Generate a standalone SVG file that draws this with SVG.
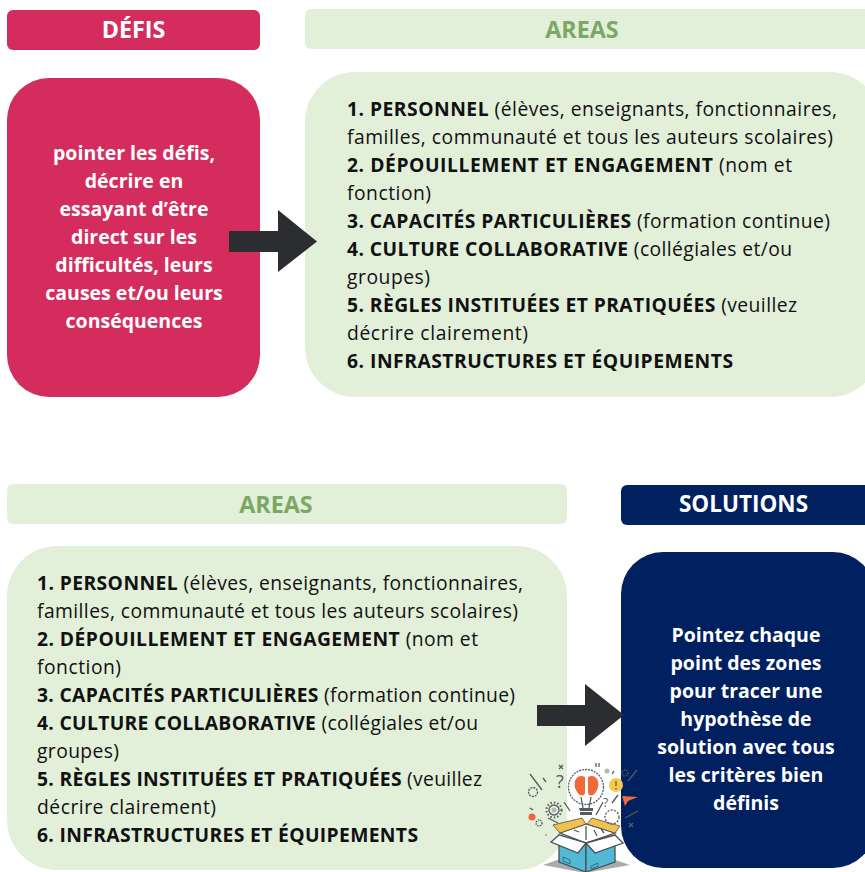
<svg xmlns="http://www.w3.org/2000/svg" width="865" height="872" viewBox="0 0 865 872">
<defs><style>
text{font-family:"Open Sans","Liberation Sans",sans-serif}
.h{font-size:23.300px;font-weight:700;text-anchor:middle}
.w{fill:#fff}.g{fill:#7da765}
.c{font-size:19.500px;font-weight:700;fill:#fff;text-anchor:middle}
.b{font-size:19.300px;fill:#111}
.s{font-weight:700}
.pink{fill:#d42d5d}.green{fill:#e2efd9}.navy{fill:#002060}
.ic{fill:none;stroke:#555a5e;stroke-width:1.300}
.f{fill:#f2c14e;stroke:#4a4f53;stroke-width:.8}
.o{fill:#fff;stroke:#4a4f53;stroke-width:1.300}
.t{fill:#4fb9d6;stroke:#4a4f53;stroke-width:1.300}
</style></defs>
<rect width="865" height="872" fill="#fff"/>
<g id="defis-header"><rect class="pink" x="7" y="10" width="253" height="40" rx="6"/><text class="h w" x="133.500" y="38">DÉFIS</text></g>
<g id="areas-header-top"><rect class="green" x="305" y="9" width="570" height="40" rx="6"/><text class="h g" x="582" y="38">AREAS</text></g>
<g id="defis-box"><rect class="pink" x="7" y="78" width="253" height="319" rx="42"/>
<text class="c" x="134" y="160">pointer les défis,</text>
<text class="c" x="134" y="188">décrire en</text>
<text class="c" x="134" y="216">essayant d’être</text>
<text class="c" x="134" y="244">direct sur les</text>
<text class="c" x="134" y="272">difficultés, leurs</text>
<text class="c" x="134" y="300">causes et/ou leurs</text>
<text class="c" x="134" y="328">conséquences</text></g>
<g id="areas-box-top"><rect class="green" x="305" y="72" width="575" height="325" rx="50"/>
<text class="b" x="347" y="116" textLength="490"><tspan class="s">1. PERSONNEL</tspan> (élèves, enseignants, fonctionnaires,</text>
<text class="b" x="347" y="144" textLength="486">familles, communauté et tous les auteurs scolaires)</text>
<text class="b" x="347" y="172" textLength="445"><tspan class="s">2. DÉPOUILLEMENT ET ENGAGEMENT</tspan> (nom et</text>
<text class="b" x="347" y="200" textLength="84">fonction)</text>
<text class="b" x="347" y="228" textLength="483"><tspan class="s">3. CAPACITÉS PARTICULIÈRES</tspan> (formation continue)</text>
<text class="b" x="347" y="256" textLength="445"><tspan class="s">4. CULTURE COLLABORATIVE</tspan> (collégiales et/ou</text>
<text class="b" x="347" y="284" textLength="83">groupes)</text>
<text class="b" x="347" y="312" textLength="450"><tspan class="s">5. RÈGLES INSTITUÉES ET PRATIQUÉES</tspan> (veuillez</text>
<text class="b" x="347" y="340" textLength="181">décrire clairement)</text>
<text class="b s" x="347" y="368" textLength="386">6. INFRASTRUCTURES ET ÉQUIPEMENTS</text></g>
<g id="areas-header-bottom"><rect class="green" x="7" y="484" width="560" height="40" rx="6"/><text class="h g" x="276" y="513">AREAS</text></g>
<g id="solutions-header"><rect class="navy" x="621" y="485" width="254" height="40" rx="6"/><text class="h w" x="743.500" y="512" style="font-size:22.500px">SOLUTIONS</text></g>
<g id="areas-box-bottom"><rect class="green" x="7" y="546" width="560" height="324" rx="50"/>
<text class="b" x="37" y="590" textLength="486"><tspan class="s">1. PERSONNEL</tspan> (élèves, enseignants, fonctionnaires,</text>
<text class="b" x="37" y="618" textLength="481">familles, communauté et tous les auteurs scolaires)</text>
<text class="b" x="37" y="646" textLength="441"><tspan class="s">2. DÉPOUILLEMENT ET ENGAGEMENT</tspan> (nom et</text>
<text class="b" x="37" y="674" textLength="84">fonction)</text>
<text class="b" x="37" y="702" textLength="478"><tspan class="s">3. CAPACITÉS PARTICULIÈRES</tspan> (formation continue)</text>
<text class="b" x="37" y="730" textLength="441"><tspan class="s">4. CULTURE COLLABORATIVE</tspan> (collégiales et/ou</text>
<text class="b" x="37" y="758" textLength="82">groupes)</text>
<text class="b" x="37" y="786" textLength="445"><tspan class="s">5. RÈGLES INSTITUÉES ET PRATIQUÉES</tspan> (veuillez</text>
<text class="b" x="37" y="814" textLength="179">décrire clairement)</text>
<text class="b s" x="37" y="842" textLength="381">6. INFRASTRUCTURES ET ÉQUIPEMENTS</text></g>
<g id="solutions-box"><rect class="navy" x="621" y="552" width="254" height="316" rx="42"/>
<text class="c" x="746" y="642">Pointez chaque</text>
<text class="c" x="746" y="670">point des zones</text>
<text class="c" x="746" y="698">pour tracer une</text>
<text class="c" x="746" y="726">hypothèse de</text>
<text class="c" x="746" y="754">solution avec tous</text>
<text class="c" x="746" y="782">les critères bien</text>
<text class="c" x="746" y="810">définis</text></g>
<g id="connectors" fill="#2b2d30">
<path d="M229 231H278V210L317 241.500L278 272V252H229Z"/>
<path d="M537 705H585V684L624 715L585 746V726H537Z"/>
</g>
<g id="idea-icon">
<path d="M543 865L586 850L630 865L590 872H580Z" fill="#a9abad"/>
<path class="o" d="M560 833L586 824L615 833L586 843Z"/>
<path class="t" d="M559 835L586 843V872L559 862Z"/>
<path class="t" d="M586 843L615 835V862L586 872Z"/>
<path class="o" d="M559 835L551 842L578 853L586 843ZM615 835L623 843L595 853L586 843Z"/>
<path class="f" d="M553 825L582 818L586 824L560 833Z"/>
<path class="f" d="M587 824L592 818L620 826L615 833Z"/>
<path class="ic" d="M586 826V840M594 830L597 836M601 829L604 833M574 830L579 832"/>
<path d="M563 857L570 860V864L563 861ZM591 866L598 863V866L591 869Z" fill="none" stroke="#3b6c80"/>
<circle cx="586" cy="787" r="17.500" fill="#fff" stroke="#555a5e" stroke-width="1.300" stroke-dasharray="2 1"/>
<path d="M585 777C577 773 572 782 576 790C579 797 585 797 585 792Z" fill="#ef6a3a"/>
<path d="M588 777C596 773 601 782 597 790C594 797 588 797 588 792Z" fill="#ef6a3a"/>
<path class="ic" d="M581 797L583 808M591 797L589 808"/>
<path d="M579 808H593V811H580ZM580 812H592V815H580Z" fill="#555a5e"/>
<circle cx="616" cy="785" r="7" fill="#f4c94e"/>
<path d="M616 781V786M616 788V789.500" stroke="#8a6d1a" stroke-width="1.500"/>
<path d="M622 796L638 797L628 801L625 806Z" fill="#ef6a3a"/>
<circle cx="532" cy="817" r="3.500" fill="#f0663a"/>
<circle cx="554" cy="810" r="5" class="ic"/>
<circle cx="554" cy="810" r="7.500" fill="none" stroke="#555a5e" stroke-width="2" stroke-dasharray="1.500 2"/>
<circle cx="554" cy="810" r="2.500" fill="#b5b6b8"/>
<circle cx="533" cy="792" r="4.500" class="ic" stroke-dasharray="2 1"/>
<circle cx="539" cy="823" r="3" class="ic" stroke-dasharray="1.500 1"/>
<circle cx="625" cy="773" r="3" class="ic" stroke-dasharray="1.500 1"/>
<circle cx="612" cy="817" r="7" class="ic" stroke-dasharray="2 1.500"/>
<circle cx="607" cy="771" r="2.500" fill="#b5b6b8"/>
<circle cx="546" cy="835" r="1.200" fill="#b5b6b8"/>
<path class="ic" d="M530 774L542 790M543 778L546 782M548 818L558 823M564 802L570 811M530 808L533 810M596 815L603 802M612 803L618 795M628 781L637 770M625 818L638 811M612 774L614 771M629 823L633 827M633 823L629 827M559 765L563 769M563 765L559 769M596 763V767M599 763V767"/>
<text x="556" y="788" font-size="18" fill="#555a5e">?</text>
<text x="603" y="807" font-size="12" fill="#555a5e">?</text>
</g>
</svg>
